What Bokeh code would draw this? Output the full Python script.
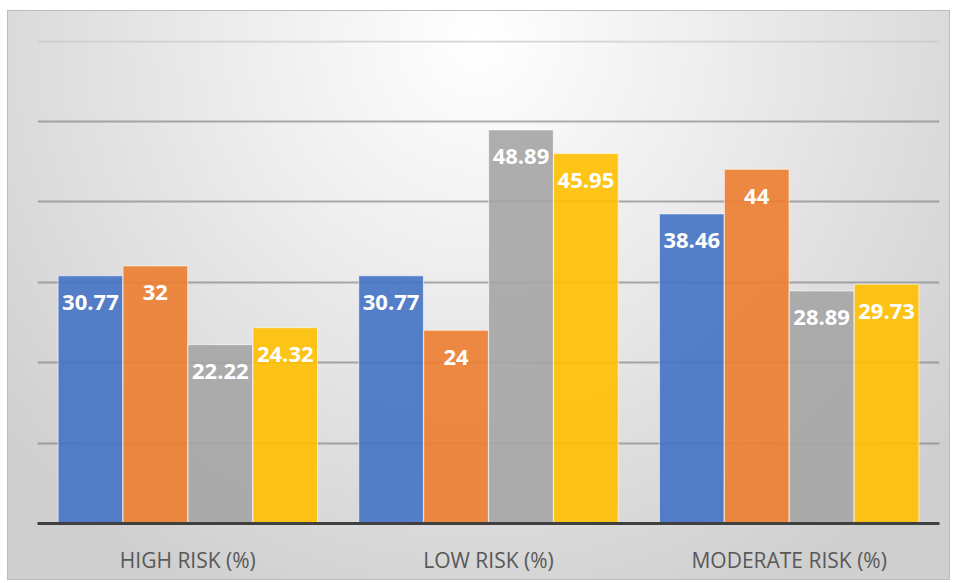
from bokeh.plotting import figure
from bokeh.models import ColumnDataSource, FactorRange, Range1d, FixedTicker, Grid
from bokeh.transform import dodge
from bokeh.core.properties import value
from bokeh.embed import file_html
from bokeh.resources import INLINE

categories = ["HIGH RISK (%)", "LOW RISK (%)", "MODERATE RISK (%)"]
series_1 = [30.77, 30.77, 38.46]
series_2 = [32, 24, 44]
series_3 = [22.22, 48.89, 28.89]
series_4 = [24.32, 45.95, 29.73]

series = [series_1, series_2, series_3, series_4]
colors = ["#4472C4", "#ED7D31", "#A5A5A5", "#FFC000"]
offsets = [-0.324, -0.108, 0.108, 0.324]

data = {"cat": categories}
for i, s in enumerate(series):
    data[f"s{i}"] = s
    data[f"l{i}"] = [f"{v:g}" for v in s]
src = ColumnDataSource(data)

p = figure(
    x_range=FactorRange(factors=categories),
    y_range=Range1d(0, 60),
    width=956, height=583,
    output_backend="svg", toolbar_location=None,
    y_axis_location=None,
    min_border_left=37, min_border_right=17,
    min_border_top=40, min_border_bottom=60,
)
p.background_fill_alpha = 0
p.border_fill_alpha = 0
p.outline_line_color = None
p.styles = {
    "background": (
        "radial-gradient(ellipse 65% 110% at 50% 5%, #ffffff 0%, #efefef 35%, #cfcfcf 100%) "
        "8px 11px / 941px 568px no-repeat, "
        "linear-gradient(#bdbdbd, #bdbdbd) 7px 10px / 943px 570px no-repeat, #ffffff"
    )
}

p.xgrid.visible = False
p.ygrid.ticker = FixedTicker(ticks=[10, 20, 30, 40, 50])
p.ygrid.grid_line_color = "#7a7a7a"
p.ygrid.grid_line_alpha = 0.6
p.ygrid.grid_line_width = 2
p.add_layout(Grid(dimension=1, ticker=FixedTicker(ticks=[59.85]),
                  grid_line_color="#c8c8c8", grid_line_alpha=0.7,
                  grid_line_width=2))

p.xaxis.axis_line_color = "#404040"
p.xaxis.axis_line_width = 3
p.xaxis.major_tick_line_color = None
p.xaxis.minor_tick_line_color = None
p.xaxis.major_label_text_font = "Open Sans"
p.xaxis.major_label_text_font_size = "21px"
p.xaxis.major_label_text_color = "#595959"
p.xaxis.major_label_standoff = 16

for i in range(4):
    x = dodge("cat", offsets[i], range=p.x_range)
    p.vbar(x=x, top=f"s{i}", width=0.215, source=src,
           fill_color=colors[i], fill_alpha=0.9,
           line_color="white", line_alpha=0.6, line_width=1)
    p.text(x=x, y=f"s{i}", text=f"l{i}", source=src, y_offset=27,
           text_align="center", text_baseline="middle",
           text_font=value("Open Sans"), text_font_style="bold",
           text_font_size="22px", text_color="white")

open("out.html", "w").write(file_html(p, INLINE))
